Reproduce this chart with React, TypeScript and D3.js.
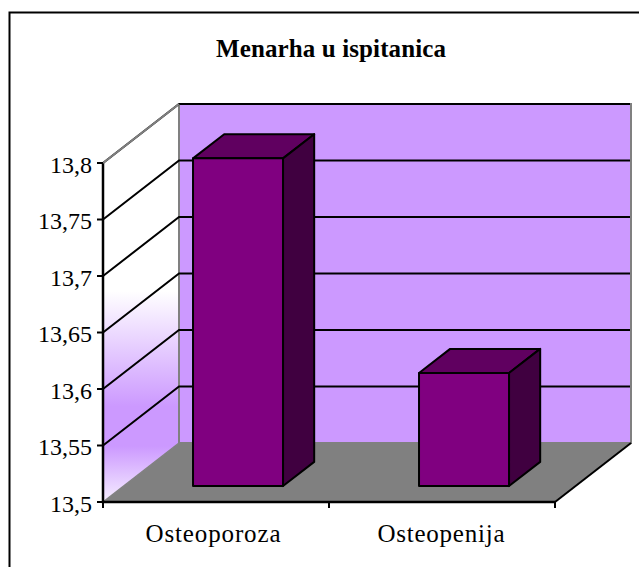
import React from "react";
import * as d3 from "d3";

const categories = ["Osteoporoza", "Osteopenija"];
const values = [13.79, 13.6];
const yTicks = [13.5, 13.55, 13.6, 13.65, 13.7, 13.75, 13.8];
const yTickLabels = ["13,5", "13,55", "13,6", "13,65", "13,7", "13,75", "13,8"];
const title = "Menarha u ispitanica";

const serif = "'Liberation Serif', serif";
const depth = { x: 76, y: -59 };
const y = d3.scaleLinear().domain([13.5, 13.8]).range([502, 163]);
const x = d3.scaleBand<string>().domain(categories).range([103, 555]);
const barW = 90;
const zFront = 0.27;
const zBack = 0.68;
const line = d3.line();
type P = [number, number];
const poly = (pts: P[]) => (line(pts) as string) + "Z";
const bottom = y(13.5);
const top = y(13.8);
const left = 103;
const right = 555;

export default function App() {
  return (
    <svg width={639} height={567} style={{ position: "fixed", left: 0, top: 0 }}>
      <defs>
        <linearGradient id="wall" gradientUnits="userSpaceOnUse" x1="0" y1="104" x2="0" y2="502">
          <stop offset="0" stopColor="#ffffff" />
          <stop offset="0.47" stopColor="#ffffff" />
          <stop offset="0.76" stopColor="#cc99ff" />
          <stop offset="0.86" stopColor="#cc99ff" />
          <stop offset="1" stopColor="#f6eeff" />
        </linearGradient>
      </defs>
      <rect width={639} height={567} fill="#fff" />
      <path d="M9.5,567V12.5H639" fill="none" stroke="#000" strokeWidth={2} />
      <text x={331} y={57} textAnchor="middle" fontFamily={serif} fontWeight="bold" fontSize={25} textLength={230} lengthAdjust="spacing">{title}</text>

      <path d={poly([[left, bottom], [left + depth.x, bottom + depth.y], [right + depth.x, bottom + depth.y], [right, bottom]])} fill="#808080" />
      <path d={poly([[left, top], [left + depth.x, top + depth.y], [left + depth.x, bottom + depth.y], [left, bottom]])} fill="url(#wall)" />
      <rect x={left + depth.x} y={top + depth.y} width={right - left} height={bottom - top} fill="#cc99ff" stroke="#808080" strokeWidth={2} />
      <path d={line([[left, bottom], [left + depth.x, bottom + depth.y]]) as string} stroke="#808080" strokeWidth={1.5} fill="none" />

      {yTicks.slice(1).map((t) => (
        <path key={t} d={line([[left, y(t)], [left + depth.x, y(t) + depth.y], [right + depth.x - 1, y(t) + depth.y]]) as string} fill="none" stroke="#000" strokeWidth={2} />
      ))}

      {categories.map((c, i) => {
        const cx = (x(c) as number) + x.bandwidth() / 2;
        const x0 = cx - barW / 2 + zFront * depth.x + 1.5;
        const x1 = x0 + barW;
        const yb = y(13.5) + zFront * depth.y;
        const yt = y(values[i]) + zFront * depth.y;
        const dx = (zBack - zFront) * depth.x;
        const dy = (zBack - zFront) * depth.y;
        return (
          <g key={c} stroke="#000" strokeWidth={2} strokeLinejoin="round">
            <path d={poly([[x0, yt], [x0 + dx, yt + dy], [x1 + dx, yt + dy], [x1, yt]])} fill="#600060" />
            <path d={poly([[x1, yt], [x1 + dx, yt + dy], [x1 + dx, yb + dy], [x1, yb]])} fill="#400040" />
            <rect x={x0} y={yt} width={barW} height={yb - yt} fill="#800080" />
          </g>
        );
      })}

      <path d={line([[right, bottom], [right + depth.x, bottom + depth.y]]) as string} fill="none" stroke="#000" strokeWidth={2} />
      <path d={line([[left, top], [left, bottom], [right, bottom]]) as string} fill="none" stroke="#000" strokeWidth={2.5} />
      <path d={line([[left, top], [left + depth.x, top + depth.y]]) as string} stroke="#808080" strokeWidth={2} fill="none" />
      {yTicks.map((t, i) => (
        <g key={t}>
          <path d={`M${left - 6},${y(t)}H${left}`} stroke="#000" strokeWidth={2} />
          <text x={92} y={y(t) + 9.5} textAnchor="end" fontFamily={serif} fontSize={24}>{yTickLabels[i]}</text>
        </g>
      ))}
      {[left, left + x.bandwidth(), right].map((v) => (
        <path key={v} d={`M${v},${bottom}V${bottom + 6}`} stroke="#000" strokeWidth={2} />
      ))}
      {categories.map((c, i) => (
        <text key={c} x={(x(c) as number) + x.bandwidth() / 2 - 3 + i * 2} y={541.5} textAnchor="middle" fontFamily={serif} fontSize={25} textLength={i === 0 ? 135 : 127} lengthAdjust="spacing">{c}</text>
      ))}
    </svg>
  );
}
